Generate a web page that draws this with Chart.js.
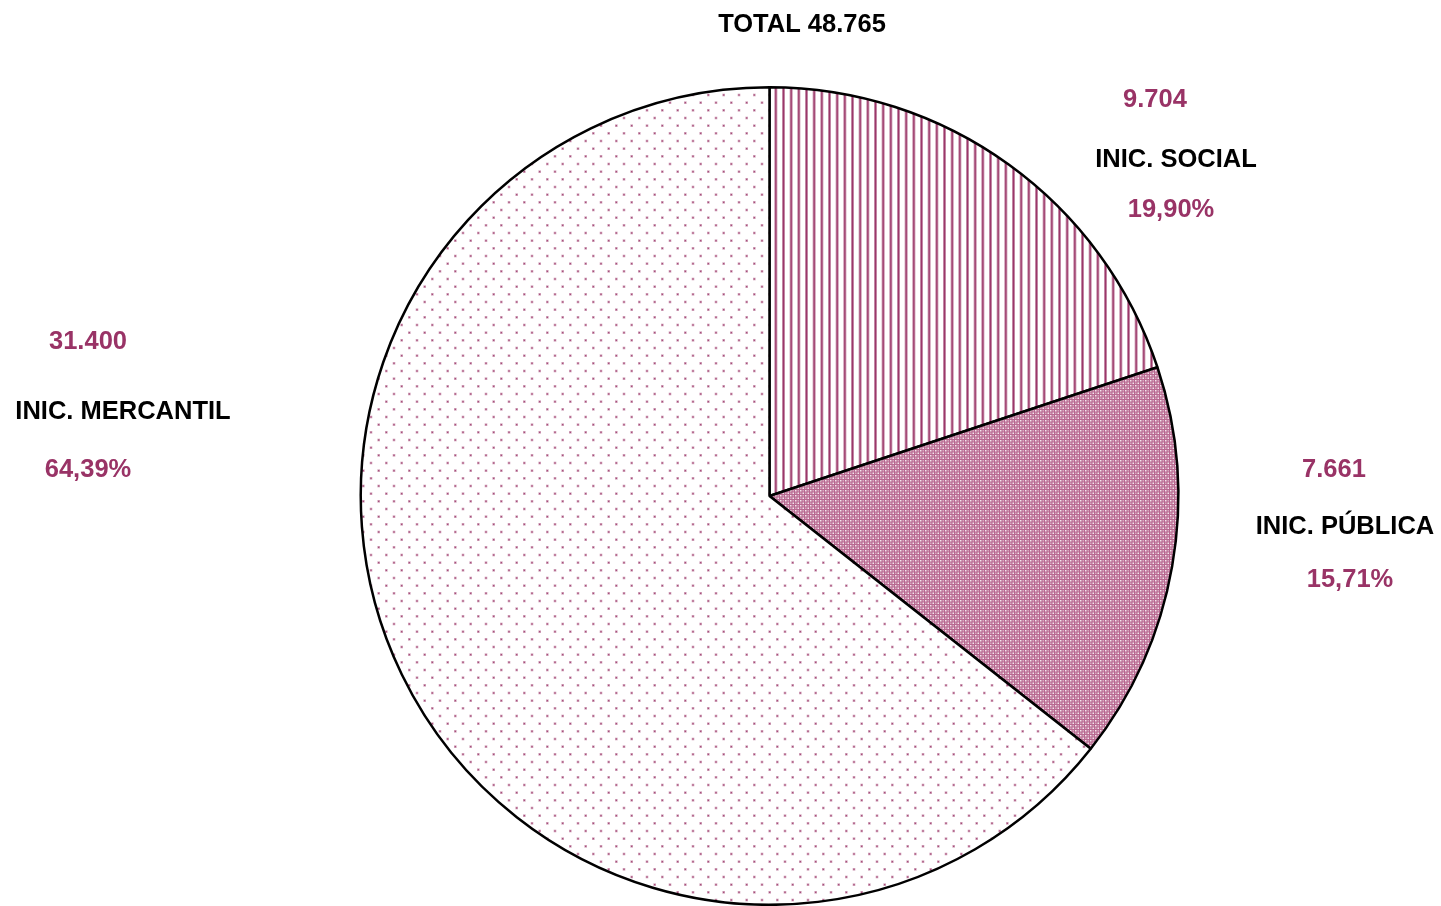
<!DOCTYPE html>
<html>
<head>
<meta charset="utf-8">
<script src="https://cdn.jsdelivr.net/npm/chart.js@4.4.0/dist/chart.umd.min.js"></script>
<style>
html,body{margin:0;padding:0;background:#fff;overflow:hidden;}
#wrap{position:relative;width:1441px;height:906px;}
</style>
</head>
<body>
<div id="wrap"><canvas id="c" width="1441" height="906"></canvas></div>
<script>
const categories = ['INIC. SOCIAL', 'INIC. PÚBLICA', 'INIC. MERCANTIL'];
const valueLabels = ['9.704', '7.661', '31.400'];
const percentLabels = ['19,90%', '15,71%', '64,39%'];
const values = [9704, 7661, 31400];
const totalLabel = 'TOTAL 48.765';

const PURPLE = '#993366';

function stripePattern(){
  const t = document.createElement('canvas');
  t.width = 23; t.height = 23;
  const g = t.getContext('2d');
  g.fillStyle = '#fff'; g.fillRect(0,0,23,23);
  for (let i=0;i<3;i++){
    const x = 1.5 + i*23/3;
    g.fillStyle = 'rgba(153,51,102,0.55)';
    g.fillRect(x-1.5,0,3,23);
    g.fillStyle = 'rgba(153,51,102,0.95)';
    g.fillRect(x-0.6,0,1.2,23);
  }
  return g.createPattern(t,'repeat');
}
function checkPattern(){
  const t = document.createElement('canvas');
  t.width = 5; t.height = 5;
  const g = t.getContext('2d');
  g.fillStyle = '#b86890'; g.fillRect(0,0,5,5);
  g.fillStyle = 'rgba(255,255,255,0.85)';
  g.fillRect(0,0,1.5,1.5);
  g.fillRect(2.5,2.5,1.5,1.5);
  g.fillStyle = 'rgba(255,255,255,0.4)';
  g.fillRect(2.5,0,1.5,1.5);
  g.fillRect(0,2.5,1.5,1.5);
  return g.createPattern(t,'repeat');
}
function dotPattern(){
  const t = document.createElement('canvas');
  t.width = 46; t.height = 46;
  const g = t.getContext('2d');
  g.fillStyle = '#fff'; g.fillRect(0,0,46,46);
  const dy = 46/6, dx = 46/3;
  for (let r=0;r<6;r++){
    for (let k=0;k<3;k++){
      const x = 3 + k*dx + (r%2 ? dx/2 : 0);
      const y = 3 + r*dy;
      g.fillStyle = 'rgba(153,51,102,0.45)';
      g.fillRect(x-1.3,y-1.3,2.6,2.6);
      g.fillStyle = 'rgba(153,51,102,0.85)';
      g.fillRect(x-0.6,y-0.6,1.2,1.2);
    }
  }
  return g.createPattern(t,'repeat');
}

const labelPos = [
  {val:[1155,99.5], name:[1176,159.5], pct:[1171,209.5]},
  {val:[1334,469.5], name:[1345,526.5], pct:[1350,579.5]},
  {val:[88,341.5], name:[123,411.5], pct:[88,469.5]}
];

const labelsPlugin = {
  id:'labelsPlugin',
  afterDraw(chart){
    const ctx = chart.ctx;
    ctx.save();
    ctx.font = 'bold 25.5px "Liberation Sans", Arial, sans-serif';
    ctx.textAlign = 'center';
    ctx.textBaseline = 'middle';
    ctx.fillStyle = '#000';
    ctx.fillText(totalLabel, 802, 24.5);
    categories.forEach((c,i)=>{
      const p = labelPos[i];
      ctx.fillStyle = PURPLE;
      ctx.fillText(valueLabels[i], p.val[0], p.val[1]);
      ctx.fillText(percentLabels[i], p.pct[0], p.pct[1]);
      ctx.fillStyle = '#000';
      ctx.fillText(c, p.name[0], p.name[1]);
    });
    ctx.restore();
  }
};

new Chart(document.getElementById('c'), {
  type:'pie',
  data:{
    labels: categories,
    datasets:[{
      data: values,
      backgroundColor:[stripePattern(), checkPattern(), dotPattern()],
      borderColor:'#000',
      borderWidth:2.5,
      borderAlign:'center'
    }]
  },
  options:{
    responsive:false,
    animation:false,
    layout:{padding:{top:86,bottom:-7,left:356,right:258}},
    plugins:{legend:{display:false},tooltip:{enabled:false}}
  },
  plugins:[labelsPlugin]
});
</script>
</body>
</html>
